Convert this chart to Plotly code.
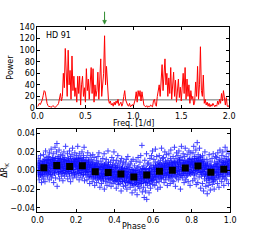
import plotly.graph_objects as go

# ---------------- periodogram data ----------------
freq_start = 0.0
freq_step = 0.01
power = [
    2, 5, 8, 6, 10, 14, 22, 30, 28, 15, 8,
    4, 2, 3, 1, 2, 4, 3, 1, 2, 3,
    5, 8, 15, 25, 12, 20, 60, 35, 103, 50,
    20, 100, 40, 65, 15, 90, 30, 55, 20, 35,
    10, 55, 25, 55, 5, 40, 55, 20, 35, 10,
    68, 30, 50, 15, 45, 70, 25, 68, 10, 40,
    20, 30, 62, 15, 50, 85, 20, 35, 60, 125,
    40, 72, 30, 15, 8, 12, 5, 8, 3, 10,
    5, 12, 8, 15, 4, 6, 10, 3, 8, 20,
    30, 14, 8, 5, 3, 8, 2, 4, 6, 3,
    8, 15, 28, 10, 30, 20, 30, 12, 28, 15,
    5, 3, 2, 4, 1, 3, 2, 5, 3, 2,
    12, 15, 6, 3, 20, 35, 40, 20, 55, 75,
    30, 50, 85, 40, 60, 20, 52, 25, 70, 15,
    40, 62, 20, 48, 10, 30, 50, 18, 36, 12,
    45, 60, 25, 70, 15, 50, 20, 40, 8, 30,
    15, 20, 5, 10, 45, 20, 72, 15, 40, 106,
    30, 20, 57, 8, 15, 5, 10, 3, 8, 2,
    6, 3, 8, 4, 2, 5, 3, 12, 6, 15,
    8, 25, 12, 30, 10, 5, 18, 3, 2, 5,
]
freqs = [round(freq_start + i * freq_step, 3) for i in range(len(power))]
threshold_x = [0.0, 2.0]
threshold_y = [14, 14]
peak_freq = 0.70
star_label = "HD 91"

# ---------------- phased light curve data (set 1) ----------------
phase = [
    0.001,0.003,0.004,0.006,0.008,0.009,0.011,0.012,0.014,0.016,0.018,0.019,0.021,0.023,0.024,
    0.026,0.027,0.029,0.031,0.032,0.034,0.036,0.037,0.039,0.041,0.042,0.044,0.046,0.047,0.049,
    0.051,0.052,0.054,0.056,0.057,0.059,0.061,0.062,0.064,0.066,0.067,0.069,0.071,0.072,0.074,
    0.076,0.077,0.079,0.081,0.082,0.084,0.086,0.087,0.089,0.091,0.092,0.094,0.096,0.097,0.099,
    0.101,0.102,0.104,0.106,0.107,0.109,0.111,0.112,0.114,0.116,0.117,0.119,0.121,0.122,0.124,
    0.126,0.127,0.129,0.131,0.132,0.134,0.136,0.137,0.139,0.141,0.142,0.144,0.146,0.147,0.149,
    0.151,0.152,0.154,0.156,0.157,0.159,0.161,0.162,0.164,0.166,0.167,0.169,0.171,0.172,0.174,
    0.176,0.177,0.179,0.181,0.182,0.184,0.186,0.187,0.189,0.191,0.192,0.194,0.196,0.197,0.199,
    0.201,0.202,0.204,0.206,0.207,0.209,0.211,0.212,0.214,0.216,0.217,0.219,0.221,0.222,0.224,
    0.226,0.227,0.229,0.231,0.232,0.234,0.236,0.237,0.239,0.241,0.242,0.244,0.246,0.247,0.249,
    0.251,0.252,0.254,0.256,0.257,0.259,0.261,0.262,0.264,0.266,0.267,0.269,0.271,0.272,0.274,
    0.276,0.277,0.279,0.281,0.282,0.284,0.286,0.287,0.289,0.291,0.292,0.294,0.296,0.297,0.299,
    0.301,0.302,0.304,0.306,0.307,0.309,0.311,0.312,0.314,0.316,0.317,0.319,0.321,0.322,0.324,
    0.326,0.327,0.329,0.331,0.332,0.334,0.336,0.337,0.339,0.341,0.342,0.344,0.346,0.347,0.349,
    0.351,0.352,0.354,0.356,0.357,0.359,0.361,0.362,0.364,0.366,0.367,0.369,0.371,0.372,0.374,
    0.376,0.377,0.379,0.381,0.382,0.384,0.386,0.387,0.389,0.391,0.392,0.394,0.396,0.397,0.399,
    0.401,0.402,0.404,0.406,0.407,0.409,0.411,0.412,0.414,0.416,0.417,0.419,0.421,0.422,0.424,
    0.426,0.427,0.429,0.431,0.432,0.434,0.436,0.437,0.439,0.441,0.442,0.444,0.446,0.447,0.449,
    0.451,0.452,0.454,0.456,0.457,0.459,0.461,0.462,0.464,0.466,0.467,0.469,0.471,0.472,0.474,
    0.476,0.477,0.479,0.481,0.482,0.484,0.486,0.487,0.489,0.491,0.492,0.494,0.496,0.497,0.499,
    0.501,0.502,0.504,0.506,0.507,0.509,0.511,0.512,0.514,0.516,0.517,0.519,0.521,0.522,0.524,
    0.526,0.527,0.529,0.531,0.532,0.534,0.536,0.537,0.539,0.541,0.542,0.544,0.546,0.547,0.549,
    0.551,0.552,0.554,0.556,0.557,0.559,0.561,0.562,0.564,0.566,0.567,0.569,0.571,0.572,0.574,
    0.576,0.577,0.579,0.581,0.582,0.584,0.586,0.587,0.589,0.591,0.592,0.594,0.596,0.597,0.599,
    0.601,0.602,0.604,0.606,0.607,0.609,0.611,0.612,0.614,0.616,0.617,0.619,0.621,0.622,0.624,
    0.626,0.627,0.629,0.631,0.632,0.634,0.636,0.637,0.639,0.641,0.642,0.644,0.646,0.647,0.649,
    0.651,0.652,0.654,0.656,0.657,0.659,0.661,0.662,0.664,0.666,0.667,0.669,0.671,0.672,0.674,
    0.676,0.677,0.679,0.681,0.682,0.684,0.686,0.687,0.689,0.691,0.692,0.694,0.696,0.697,0.699,
    0.701,0.702,0.704,0.706,0.707,0.709,0.711,0.712,0.714,0.716,0.717,0.719,0.721,0.722,0.724,
    0.726,0.727,0.729,0.731,0.732,0.734,0.736,0.737,0.739,0.741,0.742,0.744,0.746,0.747,0.749,
    0.751,0.752,0.754,0.756,0.757,0.759,0.761,0.762,0.764,0.766,0.767,0.769,0.771,0.772,0.774,
    0.776,0.777,0.779,0.781,0.782,0.784,0.786,0.787,0.789,0.791,0.792,0.794,0.796,0.797,0.799,
    0.801,0.802,0.804,0.806,0.807,0.809,0.811,0.812,0.814,0.816,0.817,0.819,0.821,0.822,0.824,
    0.826,0.827,0.829,0.831,0.832,0.834,0.836,0.837,0.839,0.841,0.842,0.844,0.846,0.847,0.849,
    0.851,0.852,0.854,0.856,0.857,0.859,0.861,0.862,0.864,0.866,0.867,0.869,0.871,0.872,0.874,
    0.876,0.877,0.879,0.881,0.882,0.884,0.886,0.887,0.889,0.891,0.892,0.894,0.896,0.897,0.899,
    0.901,0.902,0.904,0.906,0.907,0.909,0.911,0.912,0.914,0.916,0.917,0.919,0.921,0.922,0.924,
    0.926,0.927,0.929,0.931,0.932,0.934,0.936,0.937,0.939,0.941,0.942,0.944,0.946,0.947,0.949,
    0.951,0.952,0.954,0.956,0.957,0.959,0.961,0.962,0.964,0.966,0.967,0.969,0.971,0.972,0.974,
    0.976,0.977,0.979,0.981,0.982,0.984,0.986,0.987,0.989,0.991,0.992,0.994,0.996,0.997,0.999,
]
delta_rk = [
    0.008,-0.002,0.013,-0.006,0.003,-0.010,0.005,0.011,0.000,0.016,-0.004,0.002,-0.013,0.007,-0.007,
    -0.004,0.010,0.001,0.017,-0.009,0.006,-0.001,0.012,-0.012,0.004,0.021,-0.005,0.008,-0.002,0.014,
    0.011,-0.006,0.003,0.015,-0.001,0.008,-0.010,0.019,0.005,-0.004,0.012,0.000,0.023,-0.008,0.007,
    0.002,0.014,-0.005,0.009,0.018,-0.013,0.006,0.011,-0.002,0.025,0.004,-0.008,0.013,0.001,0.020,
    0.029,-0.017,0.008,0.001,0.015,-0.004,0.010,0.022,-0.009,0.006,0.013,-0.001,0.017,0.003,-0.006,
    0.009,-0.003,0.016,0.004,-0.011,0.012,0.000,0.020,0.007,-0.006,0.014,0.002,0.026,-0.002,0.010,
    -0.004,0.011,0.005,0.018,-0.009,0.002,0.013,-0.001,0.008,0.021,-0.006,0.006,0.015,-0.012,0.003,
    0.010,-0.003,0.017,0.004,0.024,-0.008,0.007,0.001,0.013,-0.005,0.009,0.019,-0.002,0.005,0.012,
    0.006,0.016,-0.007,0.010,0.002,0.026,-0.003,0.012,0.004,-0.010,0.018,0.008,0.000,0.014,-0.005,
    0.013,-0.002,0.007,0.020,-0.008,0.004,0.011,-0.004,0.016,0.001,0.025,-0.011,0.006,0.009,-0.001,
    -0.005,0.008,0.001,0.014,-0.010,0.004,0.019,-0.002,0.009,-0.007,0.011,0.003,-0.014,0.006,0.016,
    0.006,-0.007,0.012,-0.001,0.003,-0.012,0.009,0.017,-0.004,0.001,-0.009,0.014,0.004,-0.016,0.007,
    -0.008,0.005,-0.002,0.011,-0.013,0.002,0.008,-0.005,0.015,-0.010,0.001,0.019,-0.006,0.004,-0.018,
    0.004,-0.009,0.010,-0.003,-0.014,0.007,0.001,-0.007,0.013,-0.011,0.003,-0.004,0.018,-0.020,0.006,
    -0.006,0.008,-0.012,0.002,0.012,-0.004,-0.016,0.005,-0.001,0.021,-0.009,0.009,-0.003,-0.013,0.003,
    0.004,-0.010,0.009,-0.005,-0.017,0.001,0.014,-0.008,0.006,-0.002,-0.014,0.011,-0.006,0.020,-0.011,
    -0.001,-0.012,0.007,-0.007,0.003,-0.019,0.011,-0.004,-0.010,0.005,0.016,-0.015,-0.002,0.008,-0.008,
    -0.009,0.004,-0.014,0.010,-0.003,-0.022,0.001,0.013,-0.007,-0.012,0.006,-0.001,-0.017,0.009,-0.005,
    0.002,-0.011,-0.004,0.008,-0.016,-0.001,0.012,-0.008,-0.020,0.004,-0.006,0.015,-0.013,-0.002,0.006,
    -0.012,0.003,-0.007,-0.018,0.007,-0.002,-0.014,0.010,-0.009,-0.024,0.001,-0.005,0.012,-0.016,-0.003,
    -0.003,-0.015,0.005,-0.010,-0.021,0.000,-0.007,0.010,-0.013,-0.004,-0.026,0.003,-0.009,0.014,-0.017,
    0.004,-0.011,-0.002,-0.019,0.009,-0.006,0.016,-0.014,-0.001,-0.009,0.027,-0.023,0.002,-0.004,-0.012,
    -0.018,0.005,-0.029,-0.008,0.011,-0.003,-0.022,0.001,-0.013,0.018,-0.031,-0.006,0.007,-0.016,-0.001,
    -0.009,0.008,-0.024,0.002,-0.014,0.013,-0.004,-0.019,0.006,-0.011,0.016,-0.001,-0.007,0.021,-0.015,
    0.005,-0.010,0.012,-0.004,0.001,-0.016,0.009,0.023,-0.007,0.003,-0.013,0.015,-0.001,0.007,-0.020,
    -0.006,0.009,0.002,-0.012,0.016,-0.003,0.006,-0.018,0.011,0.000,-0.008,0.024,0.004,-0.005,0.013,
    0.008,-0.007,0.014,0.001,-0.013,0.005,0.020,-0.003,0.010,-0.010,0.003,0.017,-0.005,0.007,-0.016,
    -0.002,0.011,0.004,-0.009,0.018,-0.005,0.007,0.001,-0.014,0.013,0.022,-0.007,0.003,0.009,-0.011,
    0.006,-0.006,0.015,0.002,-0.012,0.010,0.025,-0.002,0.008,-0.017,0.004,0.013,-0.008,0.019,0.000,
    -0.004,0.009,0.016,-0.010,0.004,0.021,-0.001,0.012,-0.007,0.007,-0.020,0.014,0.001,0.026,-0.005,
    0.011,-0.008,0.003,0.018,-0.003,0.008,-0.013,0.015,0.005,-0.001,0.024,-0.010,0.009,0.002,-0.006,
    0.004,0.017,-0.005,0.010,-0.012,0.001,0.021,0.007,-0.003,0.013,-0.016,0.006,0.019,-0.001,0.009,
    -0.002,0.012,0.006,-0.011,0.019,0.003,0.026,-0.005,0.010,0.015,-0.009,0.007,0.000,0.022,-0.015,
    0.013,-0.004,0.030,0.008,-0.013,0.017,0.002,0.011,-0.007,0.024,0.005,-0.002,0.015,-0.019,0.009,
    -0.006,0.010,0.003,-0.014,0.016,-0.001,0.007,-0.022,0.012,0.001,-0.009,0.020,-0.004,0.005,-0.017,
    0.005,-0.011,0.012,-0.025,-0.004,0.008,-0.016,0.002,-0.008,0.017,-0.002,-0.013,0.010,-0.021,0.004,
    -0.009,0.006,-0.003,0.013,-0.015,0.001,-0.007,0.018,-0.012,0.004,-0.020,0.009,-0.001,-0.010,0.015,
    0.007,-0.008,0.014,-0.002,0.004,-0.014,0.019,0.010,-0.005,0.001,-0.018,0.012,-0.009,0.022,0.003,
    -0.004,0.011,0.002,-0.012,0.016,0.006,-0.007,0.020,-0.001,0.009,-0.016,0.013,0.004,-0.009,0.025,
    0.009,-0.006,0.015,0.003,-0.010,0.021,-0.002,0.007,0.012,-0.014,0.005,0.018,-0.004,0.010,0.001,
]

# ---------------- phased light curve data (set 2, dense core) ----------------
phase_set2 = [
    0.0005,0.002,0.0035,0.005,0.0065,0.008,0.0095,0.011,0.0125,0.014,0.0155,0.017,0.0185,0.020,0.0225,
    0.0255,0.027,0.0285,0.030,0.0315,0.033,0.0345,0.036,0.0375,0.039,0.0405,0.042,0.0435,0.045,0.0475,
    0.0505,0.052,0.0535,0.055,0.0565,0.058,0.0595,0.061,0.0625,0.064,0.0655,0.067,0.0685,0.070,0.0725,
    0.0755,0.077,0.0785,0.080,0.0815,0.083,0.0845,0.086,0.0875,0.089,0.0905,0.092,0.0935,0.095,0.0975,
    0.1005,0.102,0.1035,0.105,0.1065,0.108,0.1095,0.111,0.1125,0.114,0.1155,0.117,0.1185,0.120,0.1225,
    0.1255,0.127,0.1285,0.130,0.1315,0.133,0.1345,0.136,0.1375,0.139,0.1405,0.142,0.1435,0.145,0.1475,
    0.1505,0.152,0.1535,0.155,0.1565,0.158,0.1595,0.161,0.1625,0.164,0.1655,0.167,0.1685,0.170,0.1725,
    0.1755,0.177,0.1785,0.180,0.1815,0.183,0.1845,0.186,0.1875,0.189,0.1905,0.192,0.1935,0.195,0.1975,
    0.2005,0.202,0.2035,0.205,0.2065,0.208,0.2095,0.211,0.2125,0.214,0.2155,0.217,0.2185,0.220,0.2225,
    0.2255,0.227,0.2285,0.230,0.2315,0.233,0.2345,0.236,0.2375,0.239,0.2405,0.242,0.2435,0.245,0.2475,
    0.2505,0.252,0.2535,0.255,0.2565,0.258,0.2595,0.261,0.2625,0.264,0.2655,0.267,0.2685,0.270,0.2725,
    0.2755,0.277,0.2785,0.280,0.2815,0.283,0.2845,0.286,0.2875,0.289,0.2905,0.292,0.2935,0.295,0.2975,
    0.3005,0.302,0.3035,0.305,0.3065,0.308,0.3095,0.311,0.3125,0.314,0.3155,0.317,0.3185,0.320,0.3225,
    0.3255,0.327,0.3285,0.330,0.3315,0.333,0.3345,0.336,0.3375,0.339,0.3405,0.342,0.3435,0.345,0.3475,
    0.3505,0.352,0.3535,0.355,0.3565,0.358,0.3595,0.361,0.3625,0.364,0.3655,0.367,0.3685,0.370,0.3725,
    0.3755,0.377,0.3785,0.380,0.3815,0.383,0.3845,0.386,0.3875,0.389,0.3905,0.392,0.3935,0.395,0.3975,
    0.4005,0.402,0.4035,0.405,0.4065,0.408,0.4095,0.411,0.4125,0.414,0.4155,0.417,0.4185,0.420,0.4225,
    0.4255,0.427,0.4285,0.430,0.4315,0.433,0.4345,0.436,0.4375,0.439,0.4405,0.442,0.4435,0.445,0.4475,
    0.4505,0.452,0.4535,0.455,0.4565,0.458,0.4595,0.461,0.4625,0.464,0.4655,0.467,0.4685,0.470,0.4725,
    0.4755,0.477,0.4785,0.480,0.4815,0.483,0.4845,0.486,0.4875,0.489,0.4905,0.492,0.4935,0.495,0.4975,
    0.5005,0.502,0.5035,0.505,0.5065,0.508,0.5095,0.511,0.5125,0.514,0.5155,0.517,0.5185,0.520,0.5225,
    0.5255,0.527,0.5285,0.530,0.5315,0.533,0.5345,0.536,0.5375,0.539,0.5405,0.542,0.5435,0.545,0.5475,
    0.5505,0.552,0.5535,0.555,0.5565,0.558,0.5595,0.561,0.5625,0.564,0.5655,0.567,0.5685,0.570,0.5725,
    0.5755,0.577,0.5785,0.580,0.5815,0.583,0.5845,0.586,0.5875,0.589,0.5905,0.592,0.5935,0.595,0.5975,
    0.6005,0.602,0.6035,0.605,0.6065,0.608,0.6095,0.611,0.6125,0.614,0.6155,0.617,0.6185,0.620,0.6225,
    0.6255,0.627,0.6285,0.630,0.6315,0.633,0.6345,0.636,0.6375,0.639,0.6405,0.642,0.6435,0.645,0.6475,
    0.6505,0.652,0.6535,0.655,0.6565,0.658,0.6595,0.661,0.6625,0.664,0.6655,0.667,0.6685,0.670,0.6725,
    0.6755,0.677,0.6785,0.680,0.6815,0.683,0.6845,0.686,0.6875,0.689,0.6905,0.692,0.6935,0.695,0.6975,
    0.7005,0.702,0.7035,0.705,0.7065,0.708,0.7095,0.711,0.7125,0.714,0.7155,0.717,0.7185,0.720,0.7225,
    0.7255,0.727,0.7285,0.730,0.7315,0.733,0.7345,0.736,0.7375,0.739,0.7405,0.742,0.7435,0.745,0.7475,
    0.7505,0.752,0.7535,0.755,0.7565,0.758,0.7595,0.761,0.7625,0.764,0.7655,0.767,0.7685,0.770,0.7725,
    0.7755,0.777,0.7785,0.780,0.7815,0.783,0.7845,0.786,0.7875,0.789,0.7905,0.792,0.7935,0.795,0.7975,
    0.8005,0.802,0.8035,0.805,0.8065,0.808,0.8095,0.811,0.8125,0.814,0.8155,0.817,0.8185,0.820,0.8225,
    0.8255,0.827,0.8285,0.830,0.8315,0.833,0.8345,0.836,0.8375,0.839,0.8405,0.842,0.8435,0.845,0.8475,
    0.8505,0.852,0.8535,0.855,0.8565,0.858,0.8595,0.861,0.8625,0.864,0.8655,0.867,0.8685,0.870,0.8725,
    0.8755,0.877,0.8785,0.880,0.8815,0.883,0.8845,0.886,0.8875,0.889,0.8905,0.892,0.8935,0.895,0.8975,
    0.9005,0.902,0.9035,0.905,0.9065,0.908,0.9095,0.911,0.9125,0.914,0.9155,0.917,0.9185,0.920,0.9225,
    0.9255,0.927,0.9285,0.930,0.9315,0.933,0.9345,0.936,0.9375,0.939,0.9405,0.942,0.9435,0.945,0.9475,
    0.9505,0.952,0.9535,0.955,0.9565,0.958,0.9595,0.961,0.9625,0.964,0.9655,0.967,0.9685,0.970,0.9725,
    0.9755,0.977,0.9785,0.980,0.9815,0.983,0.9845,0.986,0.9875,0.989,0.9905,0.992,0.9935,0.995,0.9975,
]
delta_rk_set2 = [
    0.005,-0.001,0.003,0.008,-0.004,0.001,0.006,-0.002,0.004,0.009,-0.005,0.002,0.007,0.000,-0.003,
    0.001,0.007,-0.002,0.005,0.010,0.002,-0.004,0.006,0.003,0.009,-0.001,0.004,0.011,0.000,0.006,
    0.008,0.002,0.006,-0.003,0.010,0.004,0.001,0.012,-0.002,0.007,0.003,0.009,0.005,-0.004,0.011,
    0.003,0.009,0.006,0.012,-0.001,0.007,0.002,0.010,0.005,-0.003,0.008,0.013,0.001,0.006,0.004,
    0.007,0.001,0.010,0.004,0.013,-0.002,0.006,0.009,0.003,0.011,-0.001,0.008,0.005,0.012,0.002,
    0.004,0.010,-0.002,0.007,0.001,0.012,0.005,0.008,-0.003,0.006,0.011,0.003,0.009,0.000,0.007,
    0.006,0.002,0.009,-0.001,0.005,0.011,0.003,0.007,0.000,0.010,0.004,-0.003,0.008,0.012,0.001,
    0.003,0.008,0.000,0.006,0.011,0.004,-0.002,0.009,0.005,0.001,0.012,0.007,-0.004,0.006,0.010,
    0.008,0.003,0.011,0.006,-0.001,0.009,0.004,0.013,0.002,0.007,-0.003,0.010,0.005,0.001,0.008,
    0.002,0.007,0.010,-0.002,0.005,0.001,0.009,0.004,0.012,-0.004,0.006,0.003,0.008,0.000,0.011,
    0.004,-0.002,0.006,0.001,0.009,-0.004,0.003,0.007,-0.001,0.005,0.010,0.000,0.002,-0.006,0.006,
    0.002,-0.004,0.005,-0.001,0.007,-0.006,0.001,0.004,-0.003,0.008,-0.002,0.003,-0.007,0.000,0.006,
    -0.003,0.002,-0.006,0.004,-0.001,0.006,-0.005,0.001,-0.008,0.003,-0.002,0.007,-0.004,0.000,-0.007,
    0.001,-0.005,0.003,-0.002,-0.008,0.004,-0.003,0.000,-0.006,0.005,-0.001,-0.009,0.002,-0.004,0.006,
    -0.004,0.002,-0.007,0.000,0.005,-0.003,-0.009,0.003,-0.001,-0.006,0.004,-0.002,0.006,-0.008,0.001,
    -0.001,-0.006,0.002,-0.004,-0.009,0.001,-0.003,0.004,-0.007,0.000,-0.005,0.003,-0.010,-0.002,0.005,
    -0.006,-0.001,-0.009,0.002,-0.004,-0.011,0.000,-0.007,0.003,-0.003,-0.008,0.001,-0.005,-0.012,-0.002,
    -0.002,-0.008,0.001,-0.005,-0.010,-0.001,-0.006,0.002,-0.004,-0.012,-0.003,0.003,-0.007,-0.001,-0.009,
    -0.007,-0.002,-0.010,0.000,-0.005,-0.012,-0.003,0.002,-0.008,-0.004,-0.013,-0.001,-0.006,0.001,-0.009,
    -0.004,-0.010,-0.001,-0.007,-0.013,-0.003,-0.008,0.001,-0.005,-0.011,-0.002,-0.009,-0.014,-0.006,0.000,
    -0.009,-0.003,-0.012,-0.006,-0.001,-0.010,-0.014,-0.004,-0.008,0.000,-0.011,-0.005,-0.015,-0.007,-0.002,
    -0.004,-0.011,-0.001,-0.008,-0.013,-0.003,-0.007,0.001,-0.010,-0.005,-0.014,-0.002,-0.009,-0.006,0.002,
    -0.008,-0.002,-0.011,-0.004,0.001,-0.009,-0.006,-0.013,-0.001,-0.007,0.002,-0.010,-0.003,-0.012,-0.005,
    -0.001,-0.007,-0.003,-0.010,0.002,-0.005,-0.012,-0.002,-0.008,0.003,-0.004,-0.009,0.000,-0.006,-0.011,
    -0.004,0.001,-0.006,0.003,-0.002,-0.009,0.002,-0.005,0.005,-0.001,-0.007,0.004,-0.003,-0.010,0.000,
    0.002,-0.003,0.005,-0.006,0.000,-0.002,0.007,-0.008,0.003,-0.004,0.001,-0.009,0.006,-0.001,0.004,
    -0.002,0.004,-0.005,0.002,0.007,-0.003,0.000,0.005,-0.007,0.003,-0.001,0.008,-0.004,0.001,0.006,
    0.003,-0.002,0.006,-0.005,0.001,0.008,-0.003,0.004,-0.007,0.002,-0.001,0.005,0.009,-0.004,0.000,
    -0.001,0.004,0.008,-0.003,0.002,0.006,-0.005,0.001,0.009,-0.002,0.005,-0.006,0.003,0.007,0.000,
    0.004,-0.001,0.007,0.002,-0.004,0.009,0.005,0.000,0.011,-0.003,0.006,0.003,-0.005,0.008,0.001,
    0.000,0.006,0.003,-0.003,0.009,0.001,0.005,-0.005,0.007,0.002,0.011,-0.002,0.004,0.008,-0.001,
    0.005,0.000,0.008,0.003,-0.003,0.010,0.006,0.001,0.012,-0.002,0.004,0.009,0.002,-0.004,0.007,
    0.002,0.008,0.005,-0.002,0.011,0.003,0.007,0.000,0.010,0.006,-0.003,0.013,0.004,0.009,0.001,
    0.007,0.002,0.010,0.005,-0.001,0.012,0.004,0.008,0.000,0.011,0.006,0.003,0.014,-0.002,0.009,
    0.004,-0.002,0.007,0.000,0.010,-0.004,0.003,0.006,-0.001,0.009,0.002,-0.005,0.005,0.008,-0.003,
    0.001,-0.004,0.004,-0.007,-0.001,0.006,-0.003,-0.009,0.002,-0.005,0.003,-0.002,-0.008,0.005,0.000,
    -0.004,0.001,-0.007,0.003,-0.002,-0.009,0.000,-0.005,0.004,-0.003,-0.010,0.002,-0.006,-0.001,0.005,
    0.002,-0.003,0.005,-0.005,0.001,0.007,-0.002,0.004,-0.007,0.003,0.000,0.006,-0.004,0.008,-0.001,
    -0.002,0.004,0.001,0.007,-0.004,0.003,0.009,-0.001,0.005,-0.006,0.002,0.008,0.000,0.006,-0.003,
    0.004,-0.001,0.007,0.002,0.010,-0.003,0.005,0.001,0.008,-0.004,0.006,0.003,0.011,0.000,0.004,
]

bin_phase = [0.033, 0.1, 0.167, 0.233, 0.3, 0.367, 0.433, 0.5, 0.567, 0.633, 0.7, 0.767, 0.833, 0.9, 0.967]
bin_value = [0.003, 0.0055, 0.0044, 0.005, -0.0014, -0.002, -0.0038, -0.007, -0.0048, -0.0007,
             0.0003, 0.0027, 0.0048, -0.0018, 0.0013]

FONT = "DejaVu Sans"
BLUE = "#0000ff"
GREEN = "#2e8b2e"

fig = go.Figure()
fig.add_trace(go.Scatter(x=threshold_x, y=threshold_y, mode="lines",
                         line=dict(color="#707070", width=1), xaxis="x", yaxis="y",
                         showlegend=False, hoverinfo="skip"))
fig.add_trace(go.Scatter(x=freqs, y=power, mode="lines",
                         line=dict(color="#ff0000", width=1), xaxis="x", yaxis="y",
                         showlegend=False))
for px_, py_ in ((phase, delta_rk), (phase_set2, delta_rk_set2)):
    fig.add_trace(go.Scatter(x=px_, y=py_, mode="markers",
                             marker=dict(symbol="cross-thin", size=4, color=BLUE,
                                         line=dict(color=BLUE, width=1)),
                             opacity=0.75, xaxis="x2", yaxis="y2", showlegend=False))
fig.add_trace(go.Scatter(x=bin_phase, y=bin_value, mode="markers",
                         marker=dict(symbol="square", size=7, color="#000000"),
                         xaxis="x2", yaxis="y2", showlegend=False))

axis_common = dict(showline=True, linecolor="#000000", linewidth=1, mirror="allticks",
                   ticks="inside", ticklen=3, tickcolor="#000000", showgrid=False,
                   zeroline=False, tickfont=dict(family=FONT, size=8, color="#000000"))

# arrow marking the adopted peak frequency (shaft + small head), above the top panel
arrow_top = (240 - 8) / 240
arrow_tip = (240 - 21) / 240
head_base = (240 - 17) / 240
head_half = 0.02
shapes = [
    dict(type="line", xref="x", yref="paper", x0=peak_freq, x1=peak_freq,
         y0=arrow_top, y1=head_base, line=dict(color=GREEN, width=1)),
    dict(type="path", xref="x", yref="paper",
         path=f"M {peak_freq - head_half} {head_base} L {peak_freq + head_half} {head_base} "
              f"L {peak_freq} {arrow_tip} Z",
         fillcolor=GREEN, line=dict(color=GREEN, width=0.5)),
]

fig.update_layout(
    width=260, height=240,
    margin=dict(l=0, r=0, t=0, b=0),
    paper_bgcolor="white", plot_bgcolor="white",
    font=dict(family=FONT, size=8, color="#000000"),
    xaxis=dict(domain=[33/260, 234/260], range=[0, 2], tickvals=[0, 0.5, 1.0, 1.5, 2.0],
               ticktext=["0.0", "0.5", "1.0", "1.5", "2.0"], anchor="y",
               **axis_common),
    yaxis=dict(domain=[132/240, 216/240], range=[0, 140], tickvals=[0, 20, 40, 60, 80, 100, 120, 140],
               anchor="x", title=dict(text="Power", font=dict(family=FONT, size=8), standoff=4),
               **axis_common),
    xaxis2=dict(domain=[33/260, 235/260], range=[0, 1], tickvals=[0, 0.2, 0.4, 0.6, 0.8, 1.0],
                ticktext=["0.0", "0.2", "0.4", "0.6", "0.8", "1.0"], anchor="y2",
                **axis_common),
    yaxis2=dict(domain=[24/240, 110/240], range=[-0.0445, 0.0445],
                tickvals=[-0.04, -0.02, 0.0, 0.02, 0.04],
                ticktext=["\u22120.04", "\u22120.02", "0.00", "0.02", "0.04"], anchor="x2",
                title=dict(text="\u0394R<sub>K</sub>", font=dict(family=FONT, size=8), standoff=4),
                **axis_common),
    annotations=[
        dict(text=star_label, x=40/260, y=(240-33)/240, xref="paper", yref="paper",
             xanchor="left", yanchor="middle", showarrow=False,
             font=dict(family=FONT, size=8, color="#000000")),
        dict(text="Freq. [1/d]", x=133.5/260, y=(240-124.5)/240, xref="paper", yref="paper",
             xanchor="center", yanchor="middle", showarrow=False,
             font=dict(family=FONT, size=8, color="#000000")),
        dict(text="Phase", x=134/260, y=(240-231)/240, xref="paper", yref="paper",
             xanchor="center", yanchor="middle", showarrow=False,
             font=dict(family=FONT, size=8, color="#000000")),
    ],
    shapes=shapes,
)

fig.write_html("out.html", config={"displayModeBar": False},
               post_script="document.body.style.margin='0';document.body.style.padding='0';")
